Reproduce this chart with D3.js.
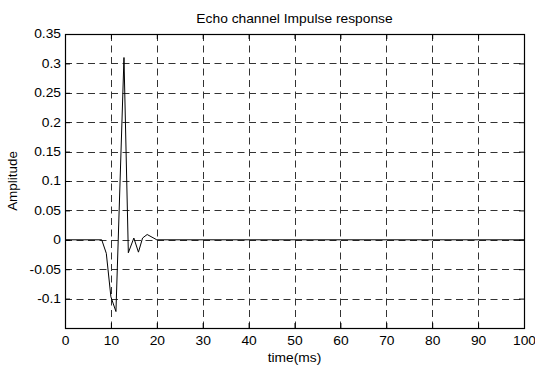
<!DOCTYPE html>
<html>
<head>
<meta charset="utf-8">
<script src="https://cdn.jsdelivr.net/npm/d3@7"></script>
<style>
  body { margin: 0; background: #fff; }
  text { font-family: "Liberation Sans", Arial, sans-serif; fill: #000; }
</style>
</head>
<body>
<div id="chart"></div>
<script>
// ---------- DATA ----------
const timeMs = [0, 8, 9, 10, 11.1, 12.85, 13.8, 15, 16, 16.9, 17.9, 20, 100];
const amplitude = [0, 0, -0.023, -0.097, -0.122, 0.31, -0.022, 0.003, -0.021, 0.003, 0.009, 0, 0];
const xTicks = [0, 10, 20, 30, 40, 50, 60, 70, 80, 90, 100];
const yTicks = [-0.1, -0.05, 0, 0.05, 0.1, 0.15, 0.2, 0.25, 0.3, 0.35];

const width = 535, height = 365;
const margin = { top: 34, right: 11, bottom: 37, left: 65 };
const w = width - margin.left - margin.right;
const h = height - margin.top - margin.bottom;
const FONT = '12px';
const STRETCH = 1.15; // reference glyphs are wider than Liberation Sans

const svg = d3.select('#chart').append('svg')
  .attr('width', width)
  .attr('height', height);

const g = svg.append('g')
  .attr('transform', `translate(${margin.left}, ${margin.top})`);

const x = d3.scaleLinear().domain([0, 100]).range([0, w]);
const y = d3.scaleLinear().domain([-0.15, 0.35]).range([h, 0]);

// ---------- GRID ----------
g.selectAll('.vgrid')
  .data(xTicks.filter(d => d > 0 && d < 100))
  .enter().append('line')
  .attr('x1', d => Math.round(x(d)) + 0.5)
  .attr('x2', d => Math.round(x(d)) + 0.5)
  .attr('y1', 0).attr('y2', h)
  .attr('stroke', '#333').attr('stroke-width', 1)
  .attr('stroke-dasharray', '7,4.5');

g.selectAll('.hgrid')
  .data(yTicks.filter(d => d < 0.35))
  .enter().append('line')
  .attr('y1', d => Math.round(y(d)) + 0.5)
  .attr('y2', d => Math.round(y(d)) + 0.5)
  .attr('x1', 0).attr('x2', w)
  .attr('stroke', '#333').attr('stroke-width', 1)
  .attr('stroke-dasharray', '7,4.5');

// ---------- AXES (ticks inward) ----------
g.append('g')
  .attr('transform', `translate(0, ${h})`)
  .call(d3.axisBottom(x).tickValues(xTicks).tickSize(-5).tickPadding(8.5).tickFormat(d3.format('d')))
  .call(a => a.select('.domain').remove())
  .call(a => a.selectAll('text')
    .style('font-size', FONT)
    .style('font-family', '"Liberation Sans", Arial, sans-serif')
    .attr('transform', `scale(${STRETCH},1)`));

g.append('g')
  .call(d3.axisLeft(y).tickValues(yTicks).tickSize(-5).tickPadding(3.5).tickFormat(d => String(+d.toFixed(2))))
  .call(a => a.select('.domain').remove())
  .call(a => a.selectAll('text')
    .style('font-size', FONT)
    .style('font-family', '"Liberation Sans", Arial, sans-serif')
    .attr('transform', `scale(${STRETCH},1)`));

g.append('g')
  .call(d3.axisTop(x).tickValues(xTicks).tickSize(-5).tickFormat(''))
  .call(a => a.select('.domain').remove());

g.append('g')
  .attr('transform', `translate(${w}, 0)`)
  .call(d3.axisRight(y).tickValues(yTicks).tickSize(-5).tickFormat(''))
  .call(a => a.select('.domain').remove());

g.selectAll('.tick line').attr('stroke', '#000');

// frame
g.append('rect')
  .attr('x', 0.5).attr('y', 0.5)
  .attr('width', w).attr('height', h)
  .attr('fill', 'none').attr('stroke', '#000').attr('stroke-width', 1.2);

// ---------- LINE ----------
const line = d3.line()
  .x((d, i) => x(timeMs[i]))
  .y(d => y(d));

g.append('path')
  .datum(amplitude)
  .attr('d', line)
  .attr('fill', 'none')
  .attr('stroke', '#000')
  .attr('stroke-width', 1);

// ---------- LABELS ----------
svg.append('text')
  .attr('transform', `translate(${margin.left + w / 2}, 23) scale(${STRETCH},1)`)
  .attr('text-anchor', 'middle')
  .style('font-size', FONT)
  .text('Echo channel Impulse response');

svg.append('text')
  .attr('transform', `translate(${margin.left + w / 2}, 361.5) scale(${STRETCH},1)`)
  .attr('text-anchor', 'middle')
  .style('font-size', FONT)
  .text('time(ms)');

svg.append('text')
  .attr('transform', `translate(17, ${margin.top + h / 2}) rotate(-90) scale(1.12,1)`)
  .attr('text-anchor', 'middle')
  .style('font-size', FONT)
  .text('Amplitude');
</script>
</body>
</html>
